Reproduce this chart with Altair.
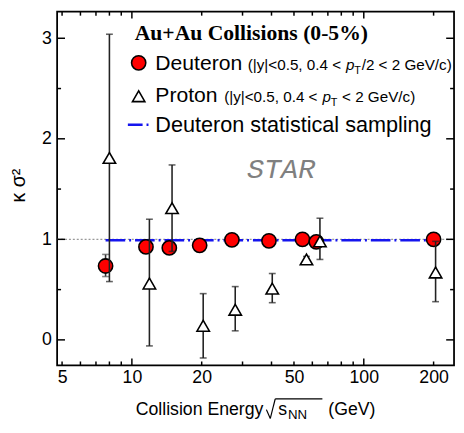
import altair as alt
import pandas as pd

# ---------------- data ----------------
energy_d = [7.7, 11.5, 14.5, 19.6, 27, 39, 54.4, 62.4, 200]
kappa_d = [0.735, 0.925, 0.915, 0.94, 0.995, 0.985, 1.0, 0.975, 1.0]
kappa_d_lo = [0.63, 0.91, 0.90, 0.925, 0.98, 0.97, 0.985, 0.96, 0.985]
kappa_d_hi = [0.85, 0.94, 0.93, 0.955, 1.01, 1.0, 1.015, 0.99, 1.015]

energy_p = [8.0, 11.9, 14.9, 20.3, 27.9, 40.3, 56.6, 64.7, 204]
kappa_p = [1.81, 0.56, 1.31, 0.14, 0.30, 0.51, 0.80, 0.98, 0.67]
kappa_p_lo = [0.58, -0.06, 0.88, -0.18, 0.09, 0.37, 0.77, 0.80, 0.38]
kappa_p_hi = [3.04, 1.20, 1.74, 0.46, 0.53, 0.66, 0.83, 1.21, 0.98]

sampling_energy = [7.7, 200]
sampling_kappa = [0.99, 0.99]

unity_energy = [4.76, 245]
unity_kappa = [1, 1]

x_labels = [5, 10, 20, 50, 100, 200]
x_major = [10, 100]
x_minor = [5, 6, 7, 8, 9, 20, 30, 40, 50, 60, 70, 80, 90, 200]
y_major = [0, 1, 2, 3]
y_minor = [0.5, 1.5, 2.5]

legend_title = "Au+Au Collisions (0-5%)"
legend_names = ["Deuteron", "Proton", "Deuteron statistical sampling"]

W, H = 404, 360
XDOM = [4.76, 245]
YDOM = [-0.254, 3.264]
FONT = "Liberation Sans"

xaxis = alt.Axis(values=x_labels, format="d", labelFontSize=18, labelFont=FONT,
                 labelColor="black", ticks=False, domain=False, grid=False,
                 labelPadding=3, title=None, labelFlush=False, labelOverlap=False)
yaxis = alt.Axis(values=y_major, format="d", labelFontSize=18, labelFont=FONT,
                 labelColor="black", ticks=False, domain=False, grid=False,
                 labelPadding=6, title=None, labelFlush=False, labelOverlap=False)


def X(f="x"):
    return alt.X(f"{f}:Q", scale=alt.Scale(type="log", domain=XDOM), axis=xaxis)


def Y(f="y"):
    return alt.Y(f"{f}:Q", scale=alt.Scale(domain=YDOM, zero=False, nice=False), axis=yaxis)


dfd = pd.DataFrame({"x": energy_d, "y": kappa_d, "lo": kappa_d_lo, "hi": kappa_d_hi})
dfp = pd.DataFrame({"x": energy_p, "y": kappa_p, "lo": kappa_p_lo, "hi": kappa_p_hi})
dfs = pd.DataFrame({"x": sampling_energy, "y": sampling_kappa})
dfu = pd.DataFrame({"x": unity_energy, "y": unity_kappa})

BLUE = "#1515ee"
layers = []

# unity dotted line
layers.append(alt.Chart(dfu).mark_line(color="#999999", strokeWidth=1.2, strokeDash=[2, 2]).encode(x=X(), y=Y()))
# sampling line
layers.append(alt.Chart(dfs).mark_line(color=BLUE, strokeWidth=2.5, strokeDash=[20, 4, 2, 4]).encode(x=X(), y=Y()))

# deuteron error bars
layers.append(alt.Chart(dfd).mark_rule(color="#333", strokeWidth=1.6).encode(x=X(), y=Y("lo"), y2="hi:Q"))
layers.append(alt.Chart(dfd).mark_tick(orient="horizontal", color="#555", thickness=1.6, size=7).encode(x=X(), y=Y("lo")))
layers.append(alt.Chart(dfd).mark_tick(orient="horizontal", color="#555", thickness=1.6, size=7).encode(x=X(), y=Y("hi")))
# deuteron circles
layers.append(alt.Chart(dfd).mark_point(shape="circle", filled=True, fill="#ff0000", stroke="black",
                                        strokeWidth=1.6, size=210, opacity=1).encode(x=X(), y=Y()))

# proton error bars
layers.append(alt.Chart(dfp).mark_rule(color="#222", strokeWidth=1.6).encode(x=X(), y=Y("lo"), y2="hi:Q"))
layers.append(alt.Chart(dfp).mark_tick(orient="horizontal", color="#222", thickness=1.6, size=7).encode(x=X(), y=Y("lo")))
layers.append(alt.Chart(dfp).mark_tick(orient="horizontal", color="#222", thickness=1.6, size=7).encode(x=X(), y=Y("hi")))
# proton triangles
layers.append(alt.Chart(dfp).mark_point(shape="triangle-up", filled=True, fill="white", stroke="black",
                                        strokeWidth=1.6, size=160, opacity=1).encode(x=X(), y=Y()))

# inward axis ticks
dxM = pd.DataFrame({"x": x_major})
dxm = pd.DataFrame({"x": x_minor})
dyM = pd.DataFrame({"y": y_major})
dym = pd.DataFrame({"y": y_minor})
tk = dict(color="black", strokeWidth=1.5)
layers.append(alt.Chart(dxM).mark_rule(**tk).encode(x=X(), y=alt.value(H), y2=alt.value(H - 7)))
layers.append(alt.Chart(dxM).mark_rule(**tk).encode(x=X(), y=alt.value(0), y2=alt.value(7)))
layers.append(alt.Chart(dxm).mark_rule(**tk).encode(x=X(), y=alt.value(H), y2=alt.value(H - 4)))
layers.append(alt.Chart(dxm).mark_rule(**tk).encode(x=X(), y=alt.value(0), y2=alt.value(4)))
layers.append(alt.Chart(dyM).mark_rule(**tk).encode(y=Y(), x=alt.value(0), x2=alt.value(8)))
layers.append(alt.Chart(dyM).mark_rule(**tk).encode(y=Y(), x=alt.value(W), x2=alt.value(W - 8)))
layers.append(alt.Chart(dym).mark_rule(**tk).encode(y=Y(), x=alt.value(0), x2=alt.value(4)))
layers.append(alt.Chart(dym).mark_rule(**tk).encode(y=Y(), x=alt.value(W), x2=alt.value(W - 4)))

one = pd.DataFrame({"k": [0]})


def txt(s, x, y, size, font=FONT, style="normal", weight="normal", color="black", align="left", angle=0,
        baseline="alphabetic"):
    return alt.Chart(one).mark_text(text=s, font=font, fontSize=size, fontStyle=style, fontWeight=weight,
                                    color=color, align=align, baseline=baseline, angle=angle).encode(
        x=alt.value(x), y=alt.value(y))


def seg(x1, y1, x2, y2, width=1.2):
    return alt.Chart(one).mark_rule(color="black", strokeWidth=width).encode(
        x=alt.value(x1), y=alt.value(y1), x2=alt.value(x2), y2=alt.value(y2))


# legend
layers.append(txt(legend_title, 79, 29, 22, font="Liberation Serif", weight="bold"))
layers.append(alt.Chart(one).mark_point(shape="circle", filled=True, fill="#ff0000", stroke="black",
                                        strokeWidth=1.6, size=210, opacity=1).encode(x=alt.value(83), y=alt.value(52)))
layers.append(alt.Chart(one).mark_point(shape="triangle-up", filled=True, fill="white", stroke="black",
                                        strokeWidth=1.6, size=160, opacity=1).encode(x=alt.value(83), y=alt.value(86)))
layers.append(alt.Chart(one).mark_rule(color=BLUE, strokeWidth=2.5, strokeDash=[15, 4, 2, 4]).encode(
    x=alt.value(72), x2=alt.value(95), y=alt.value(115)))
layers.append(txt(legend_names[0], 100, 59, 21.5))
layers.append(txt(legend_names[1], 100, 92, 21.5))
layers.append(txt(legend_names[2], 100, 122, 22))

SS = 15.5
# line 1 small text
layers.append(txt("(|y|<0.5, 0.4 <", 194, 59, SS))
layers.append(txt("p", 294, 59, SS, style="italic"))
layers.append(txt("T", 302.5, 63, 11))
layers.append(txt("/2 < 2 GeV/c)", 310, 59, SS))
# line 2 small text
layers.append(txt("(|y|<0.5, 0.4 <", 170, 92, SS))
layers.append(txt("p", 270, 92, SS, style="italic"))
layers.append(txt("T", 278.5, 96, 11))
layers.append(txt("< 2 GeV/c)", 290, 92, SS))

# STAR
layers.append(txt("STAR", 228, 169, 29, font="Liberation Mono", style="italic", color="#808080", align="center"))

# axis titles
layers.append(txt("κ σ²", -33, 177, 20, align="center", angle=270))
layers.append(txt("Collision Energy", 80, 410, 18))
# radical sign
layers.append(seg(213, 405, 217, 414))
layers.append(seg(217, 414, 222, 394))
layers.append(seg(222, 394, 270, 394))
layers.append(txt("s", 225, 410, 18))
layers.append(txt("NN", 235, 415, 13.5))
layers.append(txt("(GeV)", 276, 410, 18))

chart = alt.layer(*layers).properties(
    width=W, height=H,
    autosize=alt.AutoSizeParams(type="none"),
    padding={"left": 50, "top": 0, "right": 2, "bottom": 65},
).configure_view(stroke="black", strokeWidth=1.8)

chart.save("out.html", embed_options={"renderer": "svg", "actions": False})
